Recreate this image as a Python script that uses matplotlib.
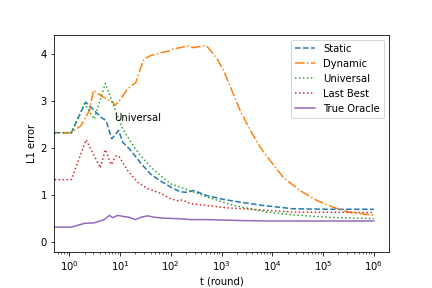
import matplotlib
matplotlib.use("Agg")
import matplotlib.pyplot as plt

# ---- data ----
t_static = [0, 1.1, 2.1, 2.7, 4.2, 5.3, 6.9, 9.4, 11.3, 16.4, 25.7, 40, 63, 108, 156, 212, 280, 523, 1100, 2330, 6700, 26000, 120000, 1e6]
y_static = [2.33, 2.33, 2.98, 2.87, 2.66, 2.59, 2.20, 2.38, 2.13, 1.95, 1.68, 1.45, 1.30, 1.15, 1.07, 1.06, 1.10, 0.99, 0.91, 0.85, 0.78, 0.71, 0.70, 0.70]

t_dynamic = [0, 1.1, 1.7, 2.5, 3.0, 4.6, 7.2, 8, 10.4, 14, 20.6, 25.7, 30, 40, 63, 92, 116, 156, 212, 285, 450, 523, 610, 820, 1100, 1500, 2330, 3700, 5800, 9000, 16500, 35000, 75000, 160000, 330000, 1e6]
y_dynamic = [2.33, 2.33, 2.48, 2.80, 3.23, 3.09, 2.98, 2.91, 3.05, 3.26, 3.40, 3.72, 3.90, 3.97, 4.03, 4.07, 4.12, 4.14, 4.18, 4.14, 4.18, 4.16, 4.08, 3.90, 3.65, 3.30, 2.80, 2.38, 2.02, 1.74, 1.38, 1.10, 0.89, 0.74, 0.64, 0.57]

t_universal = [0, 1.1, 2.0, 3.1, 5.15, 7.7, 11.3, 19, 25.7, 40, 63, 100, 156, 523, 1740, 7800, 26000, 120000, 1e6]
y_universal = [2.33, 2.33, 2.95, 2.62, 3.38, 2.87, 2.41, 2.02, 1.84, 1.60, 1.42, 1.24, 1.17, 0.96, 0.78, 0.64, 0.58, 0.53, 0.50]

t_lastbest = [0, 1.1, 2.15, 4.1, 5.15, 6.7, 8.4, 9.7, 14, 22, 35, 63, 100, 140, 170, 245, 520, 1300, 5000, 26000, 1e6]
y_lastbest = [1.33, 1.33, 2.18, 1.58, 1.97, 1.65, 1.84, 1.82, 1.53, 1.28, 1.14, 1.04, 0.92, 0.88, 0.90, 0.82, 0.78, 0.73, 0.69, 0.64, 0.63]

t_oracle = [0, 1.1, 2, 3.1, 4.9, 6.2, 7.2, 9, 11.3, 15, 20, 26, 35, 47, 74, 135, 250, 520, 2330, 9000, 1e6]
y_oracle = [0.32, 0.32, 0.40, 0.41, 0.48, 0.57, 0.52, 0.57, 0.55, 0.53, 0.48, 0.53, 0.56, 0.53, 0.51, 0.50, 0.48, 0.48, 0.46, 0.45, 0.45]

labels = ["Static", "Dynamic", "Universal", "Last Best", "True Oracle"]

fig = plt.figure(figsize=(6, 4), dpi=72)
ax = fig.add_axes([0.125, 0.125, 0.7755, 0.7535])

ax.plot(t_static, y_static, '--', color='C0', label=labels[0])
ax.plot(t_dynamic, y_dynamic, '-.', color='C1', label=labels[1])
ax.plot(t_universal, y_universal, ':', color='C2', label=labels[2])
ax.plot(t_lastbest, y_lastbest, ':', color='C3', label=labels[3])
ax.plot(t_oracle, y_oracle, '-', color='C4', label=labels[4])

ax.set_xscale('log')
ax.set_xlim(10 ** -0.3, 10 ** 6.3)
ax.set_ylim(-0.21, 4.41)
ax.text(7.5, 2.57, "Universal")
ax.set_xlabel("t (round)")
ax.set_ylabel("L1 error")
ax.legend(loc='upper right')

fig.savefig("out.png", dpi=72)
